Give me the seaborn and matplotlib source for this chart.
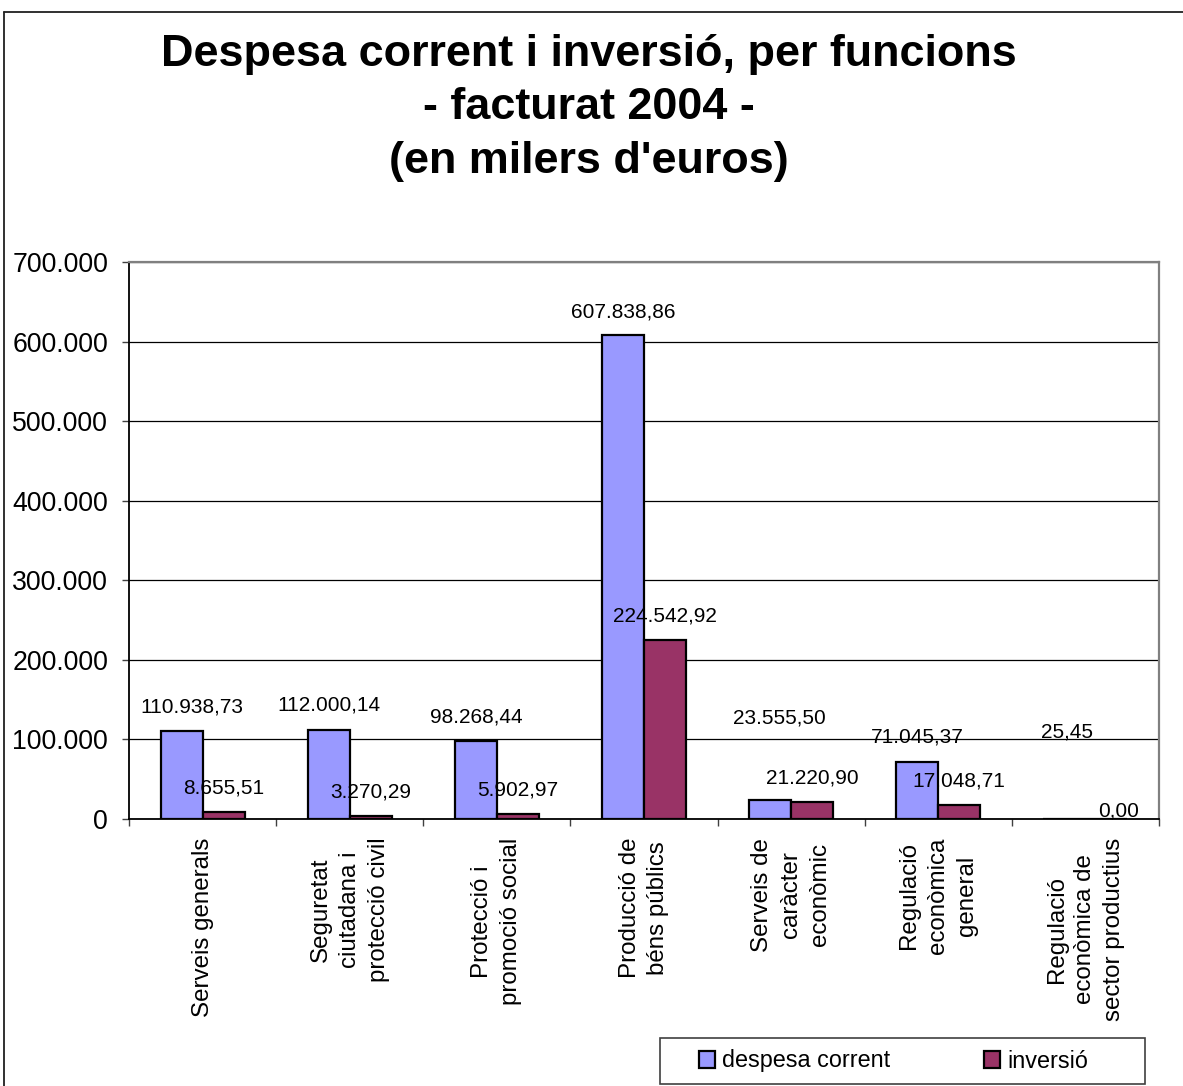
import numpy as np
import pandas as pd
import seaborn as sns
import matplotlib.pyplot as plt
from matplotlib.lines import Line2D
from matplotlib.patches import Rectangle

# values in thousands of euros
categories = [
    "Serveis generals",
    "Seguretat\nciutadana i\nprotecció civil",
    "Protecció i\npromoció social",
    "Producció de\nbéns públics",
    "Serveis de\ncaràcter\neconòmic",
    "Regulació\neconòmica\ngeneral",
    "Regulació\neconòmica de\nsector productius",
]
despesa_corrent = [110938.73, 112000.14, 98268.44, 607838.86, 23555.50, 71045.37, 25.45]
inversio = [8655.51, 3270.29, 5902.97, 224542.92, 21220.90, 17048.71, 0.00]
series_names = ["despesa corrent", "inversió"]
y_ticks = [0, 100000, 200000, 300000, 400000, 500000, 600000, 700000]

# where the value labels sit (hand placed in the original chart)
label_y = [
    [141000, 143000, 128500, 637500, 127500, 103500, 109000],
    [39000, 34000, 36500, 255500, 51000, 48000, 10000],
]
label_dx_px = [
    [10, 0, 0, 0, 9, 0, 3],
    [0, 0, 0, 0, 0, 0, 12],
]

df = pd.DataFrame({
    "funcio": categories * 2,
    "serie": [series_names[0]] * len(categories) + [series_names[1]] * len(categories),
    "valor": despesa_corrent + inversio,
})

sns.set_theme(style="white")
plt.rcParams["font.family"] = ["Liberation Sans", "DejaVu Sans"]
plt.rcParams["text.color"] = "black"
plt.rcParams["xtick.color"] = "black"
plt.rcParams["ytick.color"] = "black"

W, H = 1183, 1086
fig = plt.figure(figsize=(W / 100, H / 100), dpi=100)
ax = fig.add_axes([129 / W, 1 - 819 / H, (1159 - 129) / W, (819 - 262) / H])

sns.barplot(
    data=df, x="funcio", y="valor", hue="serie",
    palette=["#9999FF", "#993366"], width=0.57,
    edgecolor="black", linewidth=1.6, saturation=1, ax=ax,
)


def eu_fmt(v, dec=2):
    s = f"{v:,.{dec}f}"
    return s.replace(",", "X").replace(".", ",").replace("X", ".")


# value labels
for s, cont in enumerate(ax.containers):
    for i, bar in enumerate(cont):
        xc = bar.get_x() + bar.get_width() / 2
        val = despesa_corrent[i] if s == 0 else inversio[i]
        ax.annotate(eu_fmt(val), (xc, label_y[s][i]),
                    xytext=(label_dx_px[s][i] * 0.72, 0), textcoords="offset points",
                    ha="center", va="center", fontsize=15, color="black")

ax.set_ylim(0, 700000)
ax.set_xlim(-0.5, len(categories) - 0.5)
ax.set_yticks(y_ticks)
ax.set_yticklabels([eu_fmt(v, 0) for v in y_ticks], fontsize=19.2)
ax.set_xticks(range(len(categories)))
ax.set_xticklabels(categories, rotation=90, fontsize=17.4, ha="center", va="top",
                   multialignment="center", linespacing=1.4)
ax.set_xticks(np.arange(-0.5, len(categories)), minor=True)
ax.tick_params(axis="x", which="major", length=0, pad=13.5)
ax.tick_params(axis="x", which="minor", length=5, width=1, color="#404040", direction="out", bottom=True)
ax.tick_params(axis="y", which="major", length=5, width=1, color="#404040", direction="out", left=True, pad=10)
ax.set_xlabel("")
ax.set_ylabel("")

ax.yaxis.grid(True, color="black", linewidth=0.9)
ax.set_axisbelow(True)
for side in ["top", "right"]:
    ax.spines[side].set_color("#808080")
    ax.spines[side].set_linewidth(1.6)
for side in ["left", "bottom"]:
    ax.spines[side].set_color("black")
    ax.spines[side].set_linewidth(1.3)

# legend
handles, labels = ax.get_legend_handles_labels()
ax.get_legend().remove()
fig.legend(handles, labels, loc="center left",
           bbox_to_anchor=(699 / W, 1 - 1061 / H), ncol=2, frameon=False,
           fontsize=16.8, handlelength=0.7, handleheight=0.7, handletextpad=0.3,
           columnspacing=4.0, borderpad=0, borderaxespad=0)
fig.patches.append(Rectangle((660 / W, 1 - 1084 / H), 485 / W, 46 / H, transform=fig.transFigure,
                             fill=False, edgecolor="#404040", linewidth=1.2))

# chart area border (left and top only visible)
fig.lines.append(Line2D([3.5 / W, 3.5 / W], [0, 1 - 11.5 / H], transform=fig.transFigure,
                        color="#202020", linewidth=1.3))
fig.lines.append(Line2D([3.5 / W, 1], [1 - 11.5 / H, 1 - 11.5 / H], transform=fig.transFigure,
                        color="#202020", linewidth=1.3))

fig.text(589 / W, 1 - 34 / H,
         "Despesa corrent i inversió, per funcions\n- facturat 2004 -\n(en milers d'euros)",
         ha="center", va="top", fontsize=32.4, fontweight="bold", linespacing=1.39)

fig.savefig("out.png", dpi=100, facecolor="white")
